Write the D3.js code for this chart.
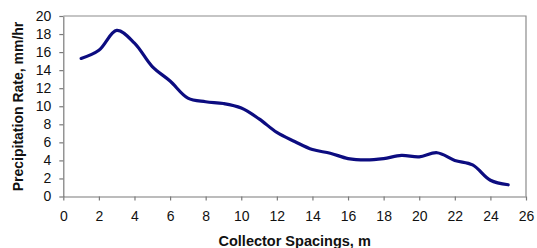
<!DOCTYPE html>
<html>
<head>
<meta charset="utf-8">
<script src="https://cdn.jsdelivr.net/npm/d3@7"></script>
<style>
  body { margin: 0; background: #fff; }
  svg { display: block; font-family: "Liberation Sans", Arial, sans-serif; }
  .tick text { font-size: 14px; fill: #111; }
</style>
</head>
<body>
<script>
const spacings = [1, 2, 3, 4, 5, 6, 7, 8, 9, 10, 11, 12, 13, 14, 15, 16, 17, 18, 19, 20, 21, 22, 23, 24, 25]
const rates = [15.3, 16.2, 18.4, 17.0, 14.4, 12.8, 10.9, 10.5, 10.3, 9.8, 8.6, 7.1, 6.1, 5.2, 4.8, 4.2, 4.05, 4.2, 4.55, 4.4, 4.85, 4.0, 3.5, 1.8, 1.3]
const xTicks = d3.range(0, 27, 2)
const yTicks = d3.range(0, 21, 2)

const w = 537
const h = 248
const plotLeft = 63.3
const plotRight = 526
const plotTop = 16
const plotBottom = 196.5

const dataset = spacings.map((s, i) => [s, rates[i]])

const xScale = d3.scaleLinear().domain([0, 26]).range([plotLeft, plotRight])
const yScale = d3.scaleLinear().domain([0, 20]).range([plotBottom, plotTop])

const svg = d3.select("body")
  .append("svg")
  .attr("width", w)
  .attr("height", h)

// frame on top and right
svg.append("path")
  .attr("d", `M${plotLeft},${plotTop}H${plotRight}V${plotBottom}`)
  .attr("fill", "none")
  .attr("stroke", "#8c8c8c")
  .attr("stroke-width", 1.2)

svg.append("g")
  .attr("transform", `translate(0, ${plotBottom})`)
  .call(d3.axisBottom(xScale).tickValues(xTicks).tickSize(4).tickPadding(11).tickSizeOuter(0))
svg.append("g")
  .attr("transform", `translate(${plotLeft}, 0)`)
  .call(d3.axisLeft(yScale).tickValues(yTicks).tickSize(4).tickPadding(8).tickSizeOuter(0))

svg.selectAll(".domain, .tick line")
  .attr("stroke", "#7a7a7a")
  .attr("stroke-width", 1.2)

const line = d3.line()
  .x(d => xScale(d[0]))
  .y(d => yScale(d[1]))
  .curve(d3.curveCatmullRom)

svg.append("path")
  .datum(dataset)
  .attr("d", line)
  .attr("fill", "none")
  .attr("stroke", "#0c0c80")
  .attr("stroke-width", 3.2)
  .attr("stroke-linecap", "round")

svg.append("text")
  .attr("text-anchor", "middle")
  .attr("x", (plotLeft + plotRight) / 2)
  .attr("y", 246)
  .attr("font-size", "14.5px")
  .attr("font-weight", "bold")
  .attr("fill", "#111")
  .text("Collector Spacings, m")

svg.append("text")
  .attr("text-anchor", "middle")
  .attr("transform", `translate(23, 106.5)rotate(-90)`)
  .attr("font-size", "14px")
  .attr("font-weight", "bold")
  .attr("fill", "#111")
  .text("Precipitation Rate, mm/hr")
</script>
</body>
</html>
